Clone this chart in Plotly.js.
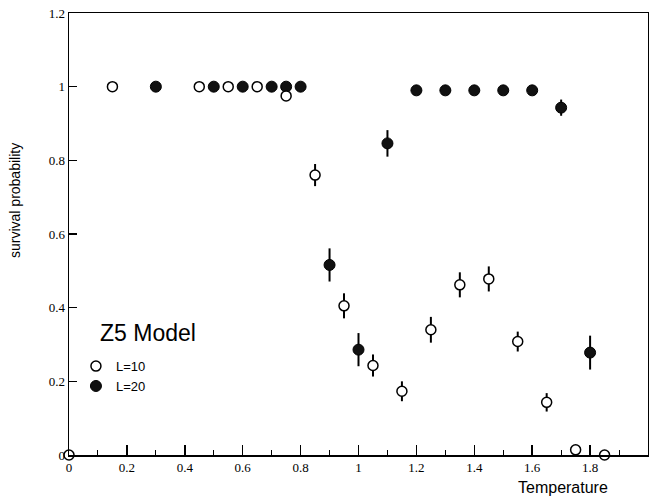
<!DOCTYPE html>
<html>
<head>
<meta charset="utf-8">
<script src="https://cdn.plot.ly/plotly-3.0.1.min.js"></script>
<style>
  html, body { margin: 0; padding: 0; background: #fff; }
  #chart { width: 649px; height: 499px; }
</style>
</head>
<body>
<div id="chart"></div>
<script>
// Survival probability vs temperature, Z5 model, two lattice sizes
const tempL10 = [0.0, 0.15, 0.45, 0.55, 0.65, 0.75, 0.85, 0.95, 1.05, 1.15, 1.25, 1.35, 1.45, 1.55, 1.65, 1.75, 1.85];
const probL10 = [0.0, 1.0, 1.0, 1.0, 1.0, 0.975, 0.76, 0.405, 0.243, 0.173, 0.34, 0.462, 0.478, 0.308, 0.143, 0.014, 0.0];
const errL10  = [0, 0, 0, 0, 0, 0, 0.03, 0.034, 0.03, 0.027, 0.035, 0.034, 0.034, 0.027, 0.025, 0, 0];

const tempL20 = [0.3, 0.5, 0.6, 0.7, 0.75, 0.8, 0.9, 1.0, 1.1, 1.2, 1.3, 1.4, 1.5, 1.6, 1.7, 1.8];
const probL20 = [1.0, 1.0, 1.0, 1.0, 1.0, 1.0, 0.516, 0.286, 0.846, 0.99, 0.99, 0.99, 0.99, 0.99, 0.943, 0.278];
const errL20  = [0, 0, 0, 0, 0, 0, 0.045, 0.045, 0.036, 0, 0, 0, 0, 0, 0.022, 0.046];

const xTicks = [0, 0.2, 0.4, 0.6, 0.8, 1, 1.2, 1.4, 1.6, 1.8, 2];
const yTicks = [0, 0.2, 0.4, 0.6, 0.8, 1, 1.2];

const serif = '"Liberation Serif", "DejaVu Serif", serif';
const sans = '"Liberation Sans", Arial, sans-serif';

const traces = [
  {
    x: tempL20, y: probL20, name: 'L=20', type: 'scatter', mode: 'markers',
    error_y: { type: 'data', array: errL20, visible: true, color: '#000', thickness: 2, width: 0 },
    marker: { symbol: 'circle', size: 11, color: '#111', line: { color: '#000', width: 1 } },
    cliponaxis: false
  },
  {
    x: tempL10, y: probL10, name: 'L=10', type: 'scatter', mode: 'markers',
    error_y: { type: 'data', array: errL10, visible: true, color: '#000', thickness: 2, width: 0 },
    marker: { symbol: 'circle', size: 10, color: '#fff', line: { color: '#000', width: 1.5 } },
    cliponaxis: false
  }
];

const layout = {
  width: 649, height: 499,
  margin: { l: 69, r: 1, t: 13, b: 44 },
  paper_bgcolor: '#fff', plot_bgcolor: '#fff',
  showlegend: true,
  legend: {
    x: 0.012, y: 0.235, xanchor: 'left', yanchor: 'top',
    traceorder: 'reversed',
    bgcolor: 'rgba(0,0,0,0)',
    font: { family: sans, size: 13, color: '#000' },
    tracegroupgap: 0
  },
  xaxis: {
    range: [0, 2],
    tickmode: 'array', tickvals: xTicks,
    ticks: 'inside', ticklen: 10, tickwidth: 1.5, tickcolor: '#000',
    minor: { tickmode: 'linear', tick0: 0, dtick: 0.1, ticks: 'inside', ticklen: 5, tickwidth: 1, tickcolor: '#000', showgrid: false },
    showline: true, linecolor: '#000', linewidth: 1.5, mirror: true,
    showgrid: false, zeroline: false,
    tickfont: { family: serif, size: 13, color: '#000' }
  },
  yaxis: {
    range: [0, 1.2],
    tickmode: 'array', tickvals: yTicks,
    ticks: 'inside', ticklen: 8, tickwidth: 1.5, tickcolor: '#000',
    showline: true, linecolor: '#000', linewidth: 1.5, mirror: true,
    showgrid: false, zeroline: false,
    tickfont: { family: serif, size: 13, color: '#000' }
  },
  annotations: [
    {
      text: 'Z5 Model', xref: 'paper', yref: 'paper',
      x: (98 - 69) / 579, y: (455 - 333) / 442, xanchor: 'left', yanchor: 'middle',
      showarrow: false, font: { family: sans, size: 23, color: '#000' }
    },
    {
      text: 'Temperature', xref: 'paper', yref: 'paper',
      x: (563 - 69) / 579, y: -(487 - 455) / 442, xanchor: 'center', yanchor: 'middle',
      showarrow: false, font: { family: sans, size: 16, color: '#000' }
    },
    {
      text: 'survival probability', xref: 'paper', yref: 'paper',
      x: -(69 - 15) / 579, y: (455 - 201) / 442, xanchor: 'center', yanchor: 'middle',
      textangle: -90, showarrow: false, font: { family: sans, size: 14, color: '#000' }
    }
  ]
};

Plotly.newPlot('chart', traces, layout, { displayModeBar: false, staticPlot: true });
</script>
</body>
</html>
